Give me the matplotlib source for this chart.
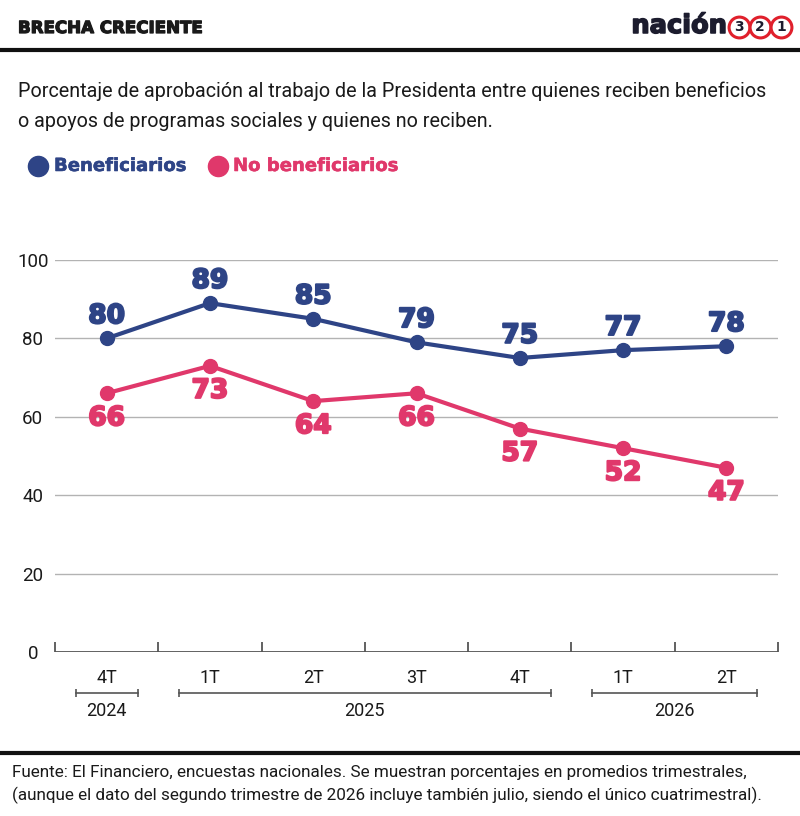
import numpy as np
import matplotlib
matplotlib.use('Agg')
import matplotlib.pyplot as plt
import matplotlib.patheffects as pe
from matplotlib.lines import Line2D

# data
quarters = ['4T', '1T', '2T', '3T', '4T', '1T', '2T']
beneficiarios = [80, 89, 85, 79, 75, 77, 78]
no_beneficiarios = [66, 73, 64, 66, 57, 52, 47]
years = ['2024', '2025', '2026']
year_first = [0, 1, 5]
year_last = [0, 4, 6]

BLUE = '#2e4486'
PINK = '#e0386b'
DARK = '#1a1a1a'

W, H = 800, 816
fig = plt.figure(figsize=(W / 100, H / 100), dpi=100)

def fx(px):
    return px / W

def fy(py):
    return 1 - py / H

def heavy(col, w=1.3):
    return [pe.withStroke(linewidth=w, foreground=col)]

# header
fig.text(fx(18), fy(28), 'BRECHA CRECIENTE', fontsize=12, fontweight='bold',
         family='DejaVu Sans', color=DARK, va='center', ha='left',
         path_effects=heavy(DARK, 0.9))
fig.text(fx(727), fy(26), 'nación', fontsize=18.5, fontweight='bold',
         family='DejaVu Sans', color='#1c1c2e', va='center', ha='right',
         path_effects=heavy('#1c1c2e', 1.1))
for cx, num in zip([739, 760, 781], ['3', '2', '1']):
    fig.add_artist(Line2D([fx(cx)], [fy(27)], marker='o', markersize=15,
                          markerfacecolor='white', markeredgecolor='#e0202c',
                          markeredgewidth=2.2, transform=fig.transFigure))
    fig.text(fx(cx), fy(27), num, fontsize=10, fontweight='bold',
             family='DejaVu Sans', color='#1c1c2e', va='center', ha='center')
fig.add_artist(Line2D([0, 1], [fy(50), fy(50)], color='#111111', lw=3,
                      transform=fig.transFigure))

# subtitle
fig.text(fx(18), fy(97), 'Porcentaje de aprobación al trabajo de la Presidenta entre quienes reciben beneficios',
         fontsize=14.2, family='Roboto', color=DARK, va='baseline', ha='left')
fig.text(fx(18), fy(127), 'o apoyos de programas sociales y quienes no reciben.',
         fontsize=14.2, family='Roboto', color=DARK, va='baseline', ha='left')

# legend
for cx, tx, label, col in [(38, 54, 'Beneficiarios', BLUE), (218, 233, 'No beneficiarios', PINK)]:
    fig.add_artist(Line2D([fx(cx)], [fy(166)], marker='o', markersize=14.5,
                          color=col, transform=fig.transFigure))
    fig.text(fx(tx), fy(166), label, fontsize=13, fontweight='bold',
             family='DejaVu Sans', color=col, va='center', ha='left',
             path_effects=heavy(col, 0.4))

# chart
ax = fig.add_axes([fx(55), fy(652), fx(778 - 55), (652 - 260) / H])
x = np.arange(len(quarters)) + 0.5
ax.set_xlim(0, len(quarters))
ax.set_ylim(0, 100)
for s in ax.spines.values():
    s.set_visible(False)
for yv in [20, 40, 60, 80, 100]:
    ax.axhline(yv, color='#b3b3b3', lw=1, zorder=1)
ax.axhline(0, color='#555555', lw=1.3, zorder=1)
ax.vlines(np.arange(len(quarters) + 1), 0, 2.6, color='#555555', lw=1.3, clip_on=False)

ax.plot(x, beneficiarios, color=BLUE, lw=3, marker='o', markersize=10, zorder=3, clip_on=False)
ax.plot(x, no_beneficiarios, color=PINK, lw=3, marker='o', markersize=10, zorder=3, clip_on=False)
for xi, v in zip(x, beneficiarios):
    ax.annotate(str(v), (xi, v), xytext=(0, 16), textcoords='offset points',
                ha='center', va='center', fontsize=19, fontweight='bold',
                family='DejaVu Sans', color=BLUE, path_effects=heavy(BLUE, 1.5))
for xi, v in zip(x, no_beneficiarios):
    ax.annotate(str(v), (xi, v), xytext=(0, -18), textcoords='offset points',
                ha='center', va='center', fontsize=19, fontweight='bold',
                family='DejaVu Sans', color=PINK, path_effects=heavy(PINK, 1.5))

ax.set_yticks([0, 20, 40, 60, 80, 100])
ax.tick_params(axis='y', length=0, pad=16, labelsize=13.5, labelcolor=DARK)
for lbl in ax.get_yticklabels():
    lbl.set_ha('center')
    lbl.set_family('Roboto')
ax.set_xticks(x, quarters)
ax.tick_params(axis='x', length=0, pad=12, labelsize=13, labelcolor=DARK)
for lbl in ax.get_xticklabels():
    lbl.set_family('Roboto')

# year brackets
ypx = 3.92
for yr, a, b in zip(years, year_first, year_last):
    x0, x1 = x[a] - 0.3, x[b] + 0.3
    yb = -(693 - 652) / ypx
    ax.plot([x0, x1], [yb, yb], color='#555555', lw=1.2, clip_on=False)
    ax.plot([x0, x1], [yb, yb], ls='none', marker='|', markersize=6,
            color='#555555', mew=1.2, clip_on=False)
    ax.text((x0 + x1) / 2, -(711 - 652) / ypx, yr, ha='center', va='center',
            fontsize=13, family='Roboto', color=DARK)

# footer
fig.add_artist(Line2D([0, 1], [fy(753), fy(753)], color='#111111', lw=3,
                      transform=fig.transFigure))
fig.text(fx(12), fy(773), 'Fuente: El Financiero, encuestas nacionales. Se muestran porcentajes en promedios trimestrales,',
         fontsize=12.3, family='Roboto', color=DARK, va='center', ha='left')
fig.text(fx(12), fy(795), '(aunque el dato del segundo trimestre de 2026 incluye también julio, siendo el único cuatrimestral).',
         fontsize=12.3, family='Roboto', color=DARK, va='center', ha='left')

fig.savefig('out.png', dpi=100)
